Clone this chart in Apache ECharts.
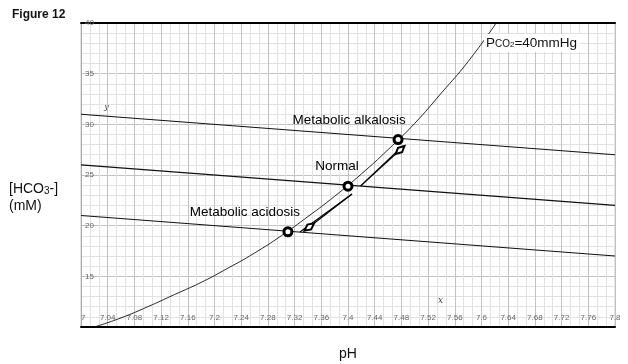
<!DOCTYPE html>
<html>
<head>
<meta charset="utf-8">
<script src="https://cdn.jsdelivr.net/npm/echarts@6/dist/echarts.min.js"></script>
<style>html,body{margin:0;padding:0;background:#fff}#c{width:628px;height:364px}</style>
</head>
<body>
<div id="c"></div>
<script>
// ---- data ----
var bufferPH = [7.0, 7.8];
var bufferHigh = [31, 27];
var bufferNormal = [26, 22];
var bufferLow = [21, 17];

var curvePH = [7.02, 7.06, 7.10, 7.14, 7.18, 7.22, 7.26, 7.30, 7.34, 7.38, 7.42, 7.46, 7.50, 7.54, 7.58, 7.622];
var curveHCO3 = [10.0, 10.9, 12.0, 13.2, 14.4, 15.8, 17.3, 19.0, 20.9, 22.9, 25.1, 27.5, 30.1, 33.1, 36.2, 40.0];

var pointNames = ['Metabolic acidosis', 'Normal', 'Metabolic alkalosis'];
var pointPH = [7.31, 7.40, 7.475];
var pointHCO3 = [19.4, 23.9, 28.5];

var arrowDownPH = [7.406, 7.328];
var arrowDownHCO3 = [23.13, 19.38];
var arrowDownHead = [7.342, 19.87];
var arrowUpPH = [7.419, 7.482];
var arrowUpHCO3 = [23.92, 27.87];
var arrowUpHead = [7.478, 27.47];

function zip(a, b) { return a.map(function (v, i) { return [v, b[i]]; }); }

var FONT = 'Liberation Sans, Arial, Helvetica, sans-serif';
var chart = echarts.init(document.getElementById('c'), null, { renderer: 'canvas' });

function bufferSeries(vals) {
  return {
    type: 'line', data: zip(bufferPH, vals), symbol: 'none', silent: true,
    lineStyle: { color: '#111', width: 1.1 }, z: 3
  };
}
function arrowSeries(px, py, head) {
  return {
    type: 'line', data: zip(px, py), symbol: 'none', silent: true,
    lineStyle: { color: '#000', width: 1.1 }, z: 4,
    markLine: {
      silent: true, symbol: ['none', 'emptyDiamond'], symbolSize: [6, 12],
      label: { show: false },
      lineStyle: { color: '#000', width: 1.1, type: 'solid' },
      data: [[{ coord: [px[0], py[0]] }, { coord: head }]]
    }
  };
}

var labelOffsets = [[-43, -19], [-11, -20], [-49, -19]];

var option = {
  animation: false,
  backgroundColor: '#fff',
  title: {
    text: 'Figure 12', left: 7, top: 4,
    textStyle: { fontFamily: FONT, fontSize: 12, fontWeight: 'bold', color: '#111' }
  },
  grid: {
    left: 81, right: 13, top: 23, bottom: 37, show: true, borderColor: '#c8c8c8', borderWidth: 1,
    containLabel: false, outerBoundsMode: 'none'
  },
  xAxis: [{
    type: 'value', min: 7, max: 7.8, interval: 0.04, position: 'bottom',
    name: 'pH', nameLocation: 'middle', nameGap: 20,
    nameTextStyle: { fontFamily: FONT, fontSize: 14, color: '#111' },
    axisLine: { show: true, onZero: false, lineStyle: { color: '#000', width: 2 } },
    axisTick: { show: false },
    axisLabel: {
      inside: true, margin: 5, fontSize: 8, color: '#666', fontFamily: FONT,
      alignMinLabel: 'left',
      formatter: function (v) { return String(+v.toFixed(2)); }
    },
    splitLine: { show: true, lineStyle: { color: '#c2c2c2', width: 1 } },
    minorTick: { show: false, splitNumber: 3 },
    minorSplitLine: { show: true, lineStyle: { color: '#e2e2e2', width: 1 } }
  }, {
    type: 'value', min: 7, max: 7.8, position: 'top',
    axisLine: { show: true, onZero: false, lineStyle: { color: '#000', width: 2 } },
    axisTick: { show: false }, axisLabel: { show: false }, splitLine: { show: false }
  }],
  yAxis: {
    type: 'value', min: 10, max: 40, interval: 5,
    axisLine: { show: true, onZero: false, lineStyle: { color: '#aaa', width: 1 } },
    axisTick: { show: false },
    axisLabel: { inside: true, margin: 4, fontSize: 8, color: '#666', fontFamily: FONT, showMinLabel: false },
    splitLine: { show: true, lineStyle: { color: '#c2c2c2', width: 1 } },
    minorTick: { show: false, splitNumber: 5 },
    minorSplitLine: { show: true, lineStyle: { color: '#e2e2e2', width: 1 } }
  },
  series: [
    bufferSeries(bufferHigh),
    bufferSeries(bufferNormal),
    bufferSeries(bufferLow),
    {
      type: 'line', data: zip(curvePH, curveHCO3), smooth: true, symbol: 'none', silent: true,
      lineStyle: { color: '#111', width: 0.9 }, z: 3
    },
    arrowSeries(arrowDownPH, arrowDownHCO3, arrowDownHead),
    arrowSeries(arrowUpPH, arrowUpHCO3, arrowUpHead),
    {
      type: 'scatter', z: 10, symbol: 'circle', symbolSize: 8,
      itemStyle: { color: '#fff', borderColor: '#000', borderWidth: 3, opacity: 1 },
      data: pointNames.map(function (n, i) {
        return {
          name: n, value: [pointPH[i], pointHCO3[i]],
          label: {
            show: true, position: 'inside', offset: labelOffsets[i], formatter: n,
            color: '#000', fontFamily: FONT, fontSize: 13.5, align: 'center', verticalAlign: 'middle'
          }
        };
      })
    }
  ],
  graphic: [
    {
      type: 'text', left: 9, top: 181,
      style: {
        text: '[HCO{s|3}-]\n(mM)', fill: '#111', font: '14px ' + FONT, lineHeight: 17,
        rich: { s: { fontSize: 10, fontFamily: FONT, fill: '#111', lineHeight: 17, padding: [3, 0, 0, 0] } }
      }
    },
    {
      type: 'text', left: 484, top: 34, z: 20,
      style: {
        text: 'P{s|CO}{t|2}=40mmHg', fill: '#111', font: '13.5px ' + FONT,
        backgroundColor: '#fff', padding: [2, 3, 2, 2],
        rich: {
          s: { fontSize: 10, fontFamily: FONT, fill: '#111', padding: [3, 0, 0, 0] },
          t: { fontSize: 8, fontFamily: FONT, fill: '#111', padding: [4, 0, 0, 0] }
        }
      }
    },
    { type: 'text', left: 438, top: 296, style: { text: 'x', fill: '#444', font: 'italic 9px DejaVu Serif, serif' } },
    { type: 'text', left: 104, top: 102, style: { text: 'y', fill: '#444', font: 'italic 9px DejaVu Serif, serif' } }
  ]
};
chart.setOption(option);
</script>
</body>
</html>
